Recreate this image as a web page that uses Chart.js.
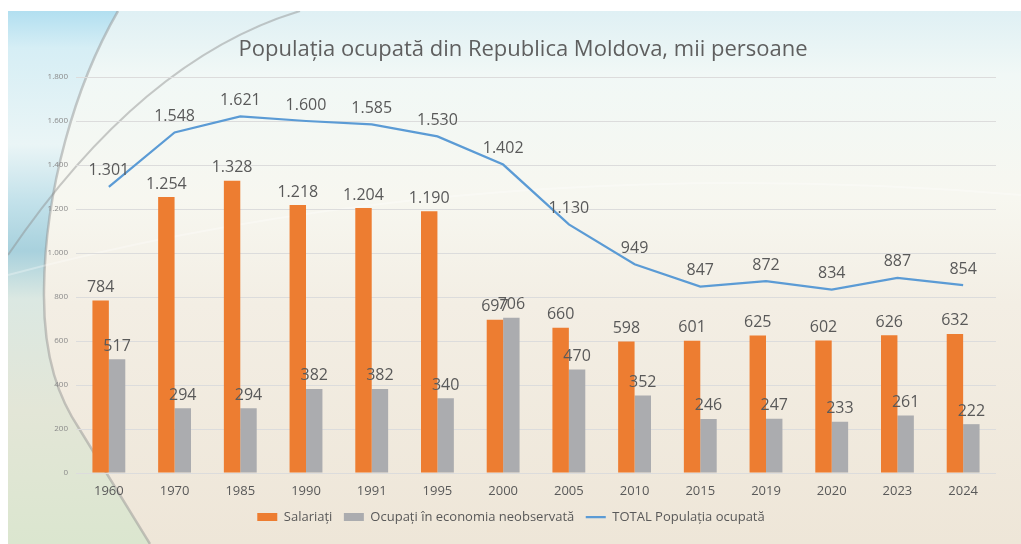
<!DOCTYPE html>
<html>
<head>
<meta charset="utf-8">
<script src="https://cdn.jsdelivr.net/npm/chart.js@4.4.1/dist/chart.umd.min.js"></script>
<style>
  html, body { margin: 0; padding: 0; background: #ffffff; }
  #wrap { width: 1021px; height: 544px; }
</style>
</head>
<body>
<div id="wrap"><canvas id="c" width="1021" height="544"></canvas></div>
<script>
const categories = ['1960','1970','1985','1990','1991','1995','2000','2005','2010','2015','2019','2020','2023','2024'];
const salariati = [784, 1254, 1328, 1218, 1204, 1190, 697, 660, 598, 601, 625, 602, 626, 632];
const ocupatiNeobservata = [517, 294, 294, 382, 382, 340, 706, 470, 352, 246, 247, 233, 261, 222];
const totalOcupata = [1301, 1548, 1621, 1600, 1585, 1530, 1402, 1130, 949, 847, 872, 834, 887, 854];
const yTicks = [0, 200, 400, 600, 800, 1000, 1200, 1400, 1600, 1800];

const titleText = 'Populația ocupată din Republica Moldova, mii persoane';
const FONT = "'Open Sans', 'DejaVu Sans', sans-serif";

function fmt(v) {
  v = Math.round(v);
  if (v >= 1000) return Math.floor(v / 1000) + '.' + String(v % 1000).padStart(3, '0');
  return String(v);
}

const bgPlugin = {
  id: 'bg',
  beforeDraw(chart) {
    const ctx = chart.ctx;
    const W = chart.width, H = chart.height;
    ctx.save();
    ctx.fillStyle = '#ffffff';
    ctx.fillRect(0, 0, W, H);
    const x0 = 8, y0 = 11, w = W - 8, h = H - 11;
    const g = ctx.createLinearGradient(0, y0, 0, y0 + h);
    g.addColorStop(0, '#dff0f4');
    g.addColorStop(0.12, '#f1f8f6');
    g.addColorStop(0.35, '#f7f7f0');
    g.addColorStop(0.55, '#f3eee4');
    g.addColorStop(1, '#eee6d8');
    ctx.fillStyle = g;
    ctx.fillRect(x0, y0, w, h);
    ctx.beginPath();
    ctx.rect(x0, y0, w, h);
    ctx.clip();
    ctx.beginPath();
    ctx.moveTo(118, 11);
    ctx.bezierCurveTo(75, 85, 45, 190, 44, 290);
    ctx.bezierCurveTo(43, 360, 60, 400, 80, 430);
    ctx.lineTo(150, 544);
    ctx.lineTo(8, 544);
    ctx.lineTo(8, 11);
    ctx.closePath();
    const g2 = ctx.createLinearGradient(0, y0, 0, y0 + h);
    g2.addColorStop(0, '#b2dff0');
    g2.addColorStop(0.07, '#d6eef5');
    g2.addColorStop(0.25, '#eaf5f6');
    g2.addColorStop(0.36, '#c2e1ea');
    g2.addColorStop(0.45, '#a8d1dd');
    g2.addColorStop(0.54, '#dbe8e2');
    g2.addColorStop(0.75, '#e3e6d7');
    g2.addColorStop(1, '#dbe6cf');
    ctx.fillStyle = g2;
    ctx.fill();
    ctx.beginPath();
    ctx.moveTo(118, 11);
    ctx.bezierCurveTo(75, 85, 45, 190, 44, 290);
    ctx.bezierCurveTo(43, 360, 60, 400, 80, 430);
    ctx.lineTo(150, 544);
    ctx.strokeStyle = 'rgba(140,140,140,0.45)';
    ctx.lineWidth = 2.5;
    ctx.stroke();
    ctx.beginPath();
    ctx.moveTo(300, 11);
    ctx.bezierCurveTo(210, 38, 110, 105, 8, 255);
    ctx.strokeStyle = 'rgba(140,140,140,0.45)';
    ctx.lineWidth = 2;
    ctx.stroke();
    ctx.beginPath();
    ctx.moveTo(8, 275);
    ctx.quadraticCurveTo(480, 150, 1021, 195);
    ctx.strokeStyle = 'rgba(255,255,255,0.3)';
    ctx.lineWidth = 2;
    ctx.stroke();
    ctx.restore();
  }
};

const titlePlugin = {
  id: 'centeredTitle',
  afterDraw(chart) {
    const ctx = chart.ctx;
    ctx.save();
    ctx.font = "22px " + FONT;
    ctx.fillStyle = '#5f5f5f';
    ctx.textAlign = 'center';
    ctx.textBaseline = 'middle';
    ctx.fillText(titleText, 523, 50);
    ctx.restore();
  }
};

const labelPlugin = {
  id: 'valueLabels',
  afterDatasetsDraw(chart) {
    const ctx = chart.ctx;
    ctx.save();
    ctx.font = "16px " + FONT;
    ctx.fillStyle = '#595959';
    ctx.textAlign = 'center';
    ctx.textBaseline = 'alphabetic';
    chart.data.datasets.forEach((ds, di) => {
      const meta = chart.getDatasetMeta(di);
      meta.data.forEach((el, i) => {
        const v = ds.data[i];
        const off = ds.type === 'line' ? 11.5 : 8.5;
        ctx.fillText(fmt(v), el.x, el.y - off);
      });
    });
    ctx.restore();
  }
};

new Chart(document.getElementById('c'), {
  type: 'bar',
  data: {
    labels: categories,
    datasets: [
      {
        label: 'Salariați',
        data: salariati,
        backgroundColor: '#ED7D31',
        borderWidth: 0,
        pointStyle: 'rect',
        categoryPercentage: 0.5,
        barPercentage: 1.0
      },
      {
        label: 'Ocupați în economia neobservată',
        data: ocupatiNeobservata,
        backgroundColor: '#ABACAF',
        borderWidth: 0,
        pointStyle: 'rect',
        categoryPercentage: 0.5,
        barPercentage: 1.0
      },
      {
        type: 'line',
        label: 'TOTAL Populația ocupată',
        data: totalOcupata,
        borderColor: '#5B9BD5',
        backgroundColor: '#5B9BD5',
        borderWidth: 2.25,
        pointRadius: 0,
        pointStyle: 'line',
        tension: 0,
        fill: false
      }
    ]
  },
  options: {
    responsive: false,
    devicePixelRatio: 1,
    animation: false,
    layout: { padding: { left: 26, right: 25, top: 77, bottom: 10.5 } },
    plugins: {
      title: { display: false },
      legend: {
        position: 'bottom',
        labels: {
          usePointStyle: true,
          pointStyleWidth: 20,
          boxWidth: 20,
          boxHeight: 8,
          padding: 11.5,
          color: '#595959',
          font: { family: FONT, size: 13 }
        }
      },
      tooltip: { enabled: false }
    },
    scales: {
      x: {
        grid: { display: false, drawTicks: false },
        border: { display: false },
        ticks: {
          color: '#595959',
          font: { family: FONT, size: 13 },
          padding: 10,
          maxRotation: 0
        },
        afterFit(scale) { scale.height = 26; }
      },
      y: {
        min: yTicks[0],
        max: yTicks[yTicks.length - 1],
        afterBuildTicks(scale) { scale.ticks = yTicks.map(v => ({ value: v })); },
        grid: { color: '#dcdcdc', lineWidth: 1, drawTicks: false },
        border: { display: false },
        ticks: {
          color: '#8a8a8a',
          font: { family: FONT, size: 8 },
          padding: 8,
          callback: (v) => fmt(v)
        },
        afterFit(scale) { scale.width = 50; }
      }
    }
  },
  plugins: [bgPlugin, labelPlugin, titlePlugin]
});
</script>
</body>
</html>
